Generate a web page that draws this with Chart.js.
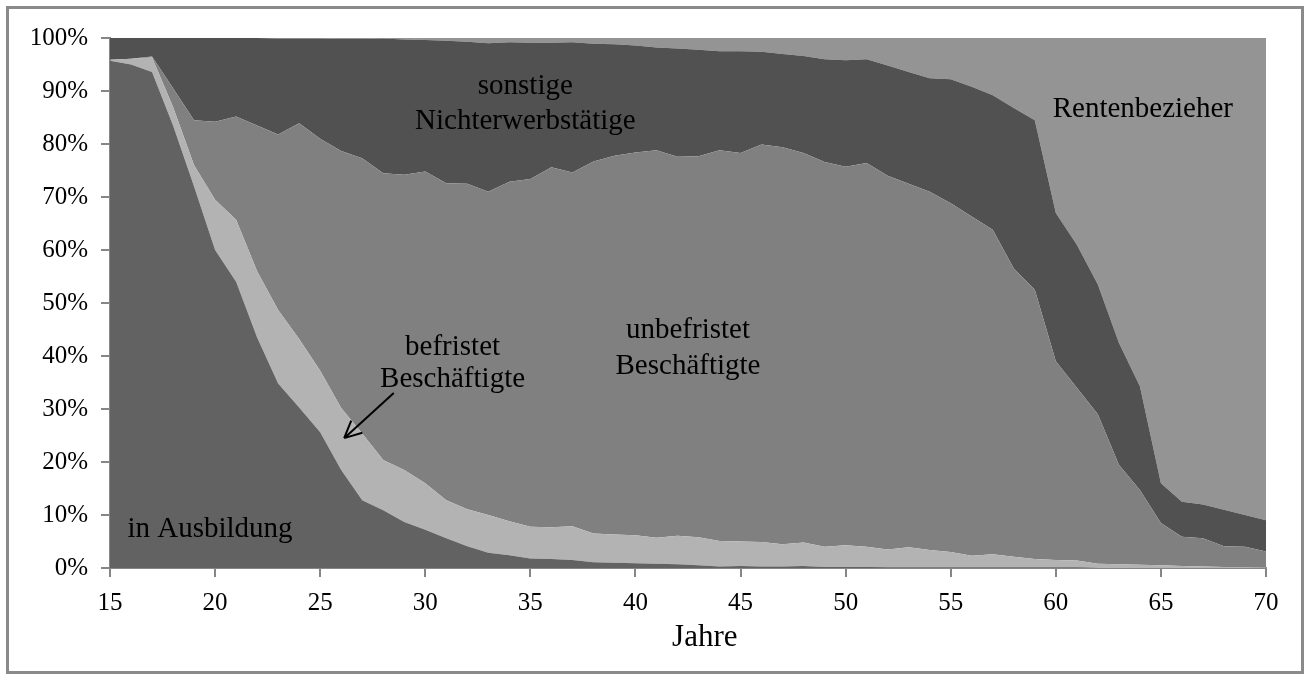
<!DOCTYPE html>
<html>
<head>
<meta charset="utf-8">
<script src="https://cdn.jsdelivr.net/npm/chart.js@4/dist/chart.umd.min.js"></script>
<style>
  html, body { margin: 0; padding: 0; background: #fff; }
  #wrap { position: relative; width: 1310px; height: 680px; }
  #frame { position: absolute; left: 6px; top: 6px; width: 1298px; height: 668px;
           border: 3px solid #8a8a8a; box-sizing: border-box; pointer-events: none; }
  canvas { position: absolute; left: 0; top: 0; }
</style>
</head>
<body>
<div id="wrap">
  <canvas id="chart" width="1310" height="680"></canvas>
  <div id="frame"></div>
</div>
<script>
// --- data (cumulative shares in %), age 15..70
const alter = [15,16,17,18,19,20,21,22,23,24,25,26,27,28,29,30,31,32,33,34,35,36,37,38,39,40,
  41,42,43,44,45,46,47,48,49,50,51,52,53,54,55,56,57,58,59,60,61,62,63,64,65,66,67,68,69,70];

// upper edge of "in Ausbildung"
const obenAusbildung = [95.7,95.0,93.6,83.5,72,60,54,43.5,34.8,30.3,25.6,18.5,12.8,10.9,8.7,7.2,
  5.6,4.1,2.9,2.4,1.8,1.7,1.5,1.1,1.0,0.9,0.8,0.7,0.5,0.3,0.4,0.3,0.3,0.4,0.2,0.2,0.2,0.1,0.1,0.1,
  0.1,0.1,0.1,0.1,0.1,0.1,0.1,0,0,0,0,0,0,0,0,0];

// upper edge of "befristet Beschäftigte"
const obenBefristet = [95.9,96.1,96.3,87,76,69.5,65.7,56,48.7,43.2,37.2,30.2,25.4,20.4,18.5,16,
  12.8,11.1,10.0,8.8,7.8,7.7,7.9,6.5,6.3,6.2,5.7,6.1,5.8,5.1,5.0,4.9,4.5,4.8,4.0,4.3,4.0,3.5,3.9,3.4,
  3.0,2.3,2.6,2.1,1.7,1.5,1.4,0.8,0.7,0.6,0.5,0.4,0.3,0.2,0.2,0.1];

// upper edge of "unbefristet Beschäftigte"
const obenUnbefristet = [95.9,96.1,96.5,90.5,84.5,84.2,85.2,83.5,81.8,83.9,81,78.7,77.3,74.5,74.2,74.8,
  72.6,72.5,71.0,72.9,73.4,75.6,74.6,76.7,77.8,78.4,78.8,77.6,77.7,78.8,78.3,79.9,79.4,78.3,76.6,75.7,
  76.4,74.0,72.5,71.0,68.8,66.3,63.8,56.5,52.5,39,34,29,19.5,14.7,8.5,5.9,5.6,4.1,4.0,3.1];

// upper edge of "sonstige Nichterwerbstätige" (above: Rentenbezieher up to 100%)
const obenSonstige = [100,100,100,100,100,100,100,100,99.9,99.9,99.9,99.8,99.8,99.9,99.7,99.6,
  99.5,99.3,99.0,99.2,99.1,99.1,99.2,98.9,98.8,98.6,98.2,98.0,97.8,97.5,97.5,97.4,97.0,96.6,96.0,95.8,
  96.0,94.8,93.6,92.4,92.2,90.8,89.2,86.8,84.5,67,61,53.5,42.5,34.3,16,12.5,12,11,10,9];

const yTicks = [0,10,20,30,40,50,60,70,80,90,100];

// text labels in the areas (age, percent)
const beschriftung = [
  { text: "sonstige", x: 34.76, y: 90.8 },
  { text: "Nichterwerbstätige", x: 34.76, y: 84.2 },
  { text: "Rentenbezieher", x: 64.14, y: 86.6 },
  { text: "unbefristet", x: 42.5, y: 44.9 },
  { text: "Beschäftigte", x: 42.5, y: 38.1 },
  { text: "befristet", x: 31.3, y: 41.7 },
  { text: "Beschäftigte", x: 31.3, y: 35.5 },
  { text: "in Ausbildung", x: 19.76, y: 7.2 }
];
const pfeil = { from: [28.5, 33], to: [26.14, 24.5] };
const achsenTitel = { text: "Jahre", x: 43.3 };

const SERIF = "'Liberation Serif', 'Times New Roman', serif";
const axisGrey = "#868686";

const pts = arr => arr.map((v, i) => ({ x: alter[i], y: v }));

function area(label, data, color, fill) {
  return {
    label, data: pts(data), fill,
    backgroundColor: color, borderColor: color,
    borderWidth: 0, pointRadius: 0, tension: 0
  };
}

// labels + arrow drawn on top of the areas
const textPlugin = {
  id: "texte",
  afterDatasetsDraw(chart) {
    const { ctx, scales: { x, y } } = chart;
    ctx.save();
    ctx.fillStyle = "#000";
    ctx.font = "29px " + SERIF;
    ctx.textAlign = "center";
    ctx.textBaseline = "middle";
    beschriftung.forEach(b => {
      ctx.fillText(b.text, x.getPixelForValue(b.x), y.getPixelForValue(b.y));
    });
    // x axis title, sits a bit right of centre in the original
    ctx.font = "31px " + SERIF;
    ctx.fillText(achsenTitel.text, x.getPixelForValue(achsenTitel.x), x.bottom - 42);
    // arrow
    const x1 = x.getPixelForValue(pfeil.from[0]), y1 = y.getPixelForValue(pfeil.from[1]);
    const x2 = x.getPixelForValue(pfeil.to[0]), y2 = y.getPixelForValue(pfeil.to[1]);
    ctx.strokeStyle = "#000";
    ctx.lineWidth = 2;
    ctx.beginPath();
    ctx.moveTo(x1, y1);
    ctx.lineTo(x2, y2);
    const ang = Math.atan2(y2 - y1, x2 - x1);
    const len = 19;
    ctx.moveTo(x2, y2);
    ctx.lineTo(x2 - len * Math.cos(ang - 0.45), y2 - len * Math.sin(ang - 0.45));
    ctx.moveTo(x2, y2);
    ctx.lineTo(x2 - len * Math.cos(ang + 0.45), y2 - len * Math.sin(ang + 0.45));
    ctx.stroke();
    ctx.restore();
  }
};

new Chart(document.getElementById("chart"), {
  type: "line",
  data: {
    datasets: [
      area("in Ausbildung", obenAusbildung, "#626262", "origin"),
      area("befristet Beschäftigte", obenBefristet, "#b3b3b3", "-1"),
      area("unbefristet Beschäftigte", obenUnbefristet, "#808080", "-1"),
      area("sonstige Nichterwerbstätige", obenSonstige, "#515151", "-1"),
      area("Rentenbezieher", obenSonstige, "#949494", "end")
    ]
  },
  options: {
    responsive: false,
    animation: false,
    layout: { padding: { left: 0, top: 38, right: 44, bottom: 0 } },
    plugins: { legend: { display: false }, tooltip: { enabled: false } },
    scales: {
      x: {
        type: "linear", min: 15, max: 70,
        afterFit(s) { s.height = 112; },
        border: { color: axisGrey, width: 2 },
        grid: { drawOnChartArea: false, color: axisGrey, tickLength: 9, lineWidth: 2 },
        ticks: { stepSize: 5, color: "#000", padding: 11, font: { family: SERIF, size: 25 } }
      },
      y: {
        min: 0, max: 100,
        afterFit(s) { s.width = 110; },
        afterBuildTicks(s) { s.ticks = yTicks.map(v => ({ value: v })); },
        border: { color: axisGrey, width: 2 },
        grid: { drawOnChartArea: false, color: axisGrey, tickLength: 9, lineWidth: 2 },
        ticks: { color: "#000", padding: 13, font: { family: SERIF, size: 25 },
                 callback: v => v + "%" }
      }
    }
  },
  plugins: [textPlugin]
});
</script>
</body>
</html>
